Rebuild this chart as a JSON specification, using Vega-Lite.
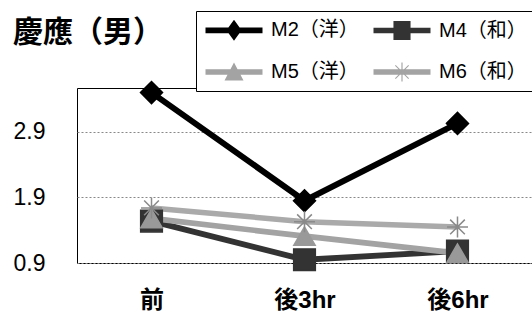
{
  "$schema": "https://vega.github.io/schema/vega-lite/v6.json",
  "width": 455,
  "height": 175,
  "autosize": "none",
  "padding": {"left": 77, "top": 88, "right": 0, "bottom": 57},
  "background": "white",
  "config": {
    "view": {"stroke": "#000", "strokeWidth": 1},
    "font": "Liberation Sans, Noto Sans CJK JP"
  },
  "title": {
    "text": "慶應（男）",
    "orient": "top",
    "anchor": "start",
    "frame": "group",
    "font": "Noto Sans CJK JP",
    "fontSize": 30,
    "fontWeight": "bold",
    "color": "#000",
    "baseline": "alphabetic",
    "offset": 0,
    "dx": -64,
    "dy": 61
  },
  "data": {
    "values": [
      {"series": "M2（洋）", "time": "前", "value": 3.5},
      {"series": "M2（洋）", "time": "後3hr", "value": 1.85},
      {"series": "M2（洋）", "time": "後6hr", "value": 3.03},
      {"series": "M4（和）", "time": "前", "value": 1.54},
      {"series": "M4（和）", "time": "後3hr", "value": 0.95},
      {"series": "M4（和）", "time": "後6hr", "value": 1.08},
      {"series": "M5（洋）", "time": "前", "value": 1.58},
      {"series": "M5（洋）", "time": "後3hr", "value": 1.31},
      {"series": "M5（洋）", "time": "後6hr", "value": 1.05},
      {"series": "M6（和）", "time": "前", "value": 1.74},
      {"series": "M6（和）", "time": "後3hr", "value": 1.53},
      {"series": "M6（和）", "time": "後6hr", "value": 1.45}
    ]
  },
  "encoding": {
    "x": {
      "field": "time",
      "type": "ordinal",
      "sort": ["前", "後3hr", "後6hr"],
      "scale": {"type": "point", "padding": 0.487},
      "axis": {
        "title": null,
        "labelAngle": 0,
        "domain": false,
        "ticks": false,
        "grid": false,
        "labelFont": "Liberation Sans, Noto Sans CJK JP",
        "labelFontSize": 24,
        "labelFontWeight": "bold",
        "labelColor": "#000",
        "labelPadding": 25
      }
    },
    "y": {
      "field": "value",
      "type": "quantitative",
      "scale": {"domain": [0.9, 3.57], "nice": false, "zero": false},
      "axis": {
        "title": null,
        "values": [0.9, 1.9, 2.9],
        "format": ".1f",
        "domain": false,
        "ticks": false,
        "grid": true,
        "gridColor": "#888",
        "gridDash": [2, 2],
        "gridWidth": 1,
        "labelFont": "Liberation Sans",
        "labelFontSize": 23,
        "labelColor": "#000",
        "labelAlign": "left",
        "labelBaseline": "middle",
        "labelPadding": 64
      }
    }
  },
  "layer": [
    {
      "mark": {"type": "line", "strokeJoin": "miter"},
      "encoding": {
        "color": {
          "field": "series",
          "scale": {"domain": ["M2（洋）", "M4（和）", "M5（洋）", "M6（和）"], "range": ["#000000", "#333333", "#a3a3a3", "#aaaaaa"]},
          "legend": null
        },
        "strokeWidth": {
          "field": "series",
          "scale": {"domain": ["M2（洋）", "M4（和）", "M5（洋）", "M6（和）"], "range": [6, 5.5, 5.5, 5.5]},
          "legend": null
        }
      }
    },
    {
      "mark": {"type": "point", "filled": true, "opacity": 1, "strokeWidth": 1.5},
      "encoding": {
        "color": {
          "field": "series",
          "scale": {"domain": ["M2（洋）", "M4（和）", "M5（洋）", "M6（和）"], "range": ["#000000", "#333333", "#999999", "#8a8a8a"]},
          "legend": null
        },
        "stroke": {
          "field": "series",
          "scale": {"domain": ["M2（洋）", "M4（和）", "M5（洋）", "M6（和）"], "range": ["#000000", "#333333", "#999999", "#8a8a8a"]},
          "legend": null
        },
        "shape": {
          "field": "series",
          "scale": {"domain": ["M2（洋）", "M4（和）", "M5（洋）", "M6（和）"], "range": ["diamond", "square", "triangle-up", "M-1,0L1,0M0,-1L0,1M-0.7,-0.7L0.7,0.7M-0.7,0.7L0.7,-0.7"]},
          "legend": null
        },
        "size": {
          "field": "series",
          "scale": {"domain": ["M2（洋）", "M4（和）", "M5（洋）", "M6（和）"], "range": [484, 441, 420, 420]},
          "legend": null
        }
      }
    },
    {
      "transform": [{"filter": "false"}],
      "mark": {"type": "point", "filled": true, "opacity": 1},
      "encoding": {
        "color": {
          "field": "series",
          "scale": {"domain": ["M2（洋）", "M4（和）", "M5（洋）", "M6（和）"], "range": ["#000000", "#333333", "#a3a3a3", "#a3a3a3"]},
          "legend": {
            "title": null,
            "orient": "none",
            "direction": "horizontal",
            "legendX": 119,
            "legendY": -77,
            "columns": 2,
            "columnPadding": 14,
            "rowPadding": 21,
            "padding": 9,
            "strokeColor": "#000",
            "fillColor": "#fff",
            "labelFont": "Liberation Sans, Noto Sans CJK JP",
            "labelFontSize": 20,
            "labelColor": "#000",
            "labelOffset": 46,
            "labelLimit": 0,
            "symbolSize": 361,
            "symbolStrokeWidth": 0
          }
        },
        "shape": {
          "field": "series",
          "scale": {
            "domain": ["M2（洋）", "M4（和）", "M5（洋）", "M6（和）"],
            "range": [
              "M-1,-0.3L5,-0.3L5,0.3L-1,0.3ZM1.2,0L2,-1.1L2.8,0L2,1.1Z",
              "M-1,-0.3L5,-0.3L5,0.3L-1,0.3ZM1.1,-1L2.9,-1L2.9,1L1.1,1Z",
              "M-1,-0.3L5,-0.3L5,0.3L-1,0.3ZM2,-1L3,0.9L1,0.9Z",
              "M-1,-0.3L5,-0.3L5,0.3L-1,0.3ZM1.94,-1L2.06,-1L2.06,1L1.94,1ZM1.26,-0.66L1.34,-0.74L2.74,0.66L2.66,0.74ZM1.26,0.66L2.66,-0.74L2.74,-0.66L1.34,0.74Z"
            ]
          },
          "legend": {
            "title": null,
            "orient": "none",
            "direction": "horizontal",
            "legendX": 119,
            "legendY": -77,
            "columns": 2,
            "columnPadding": 14,
            "rowPadding": 21,
            "padding": 9,
            "strokeColor": "#000",
            "fillColor": "#fff",
            "labelFont": "Liberation Sans, Noto Sans CJK JP",
            "labelFontSize": 20,
            "labelColor": "#000",
            "labelOffset": 46,
            "labelLimit": 0,
            "symbolSize": 361,
            "symbolStrokeWidth": 0
          }
        }
      }
    }
  ],
  "resolve": {"scale": {"color": "independent", "shape": "independent", "stroke": "independent", "strokeWidth": "independent", "size": "independent"}}
}
